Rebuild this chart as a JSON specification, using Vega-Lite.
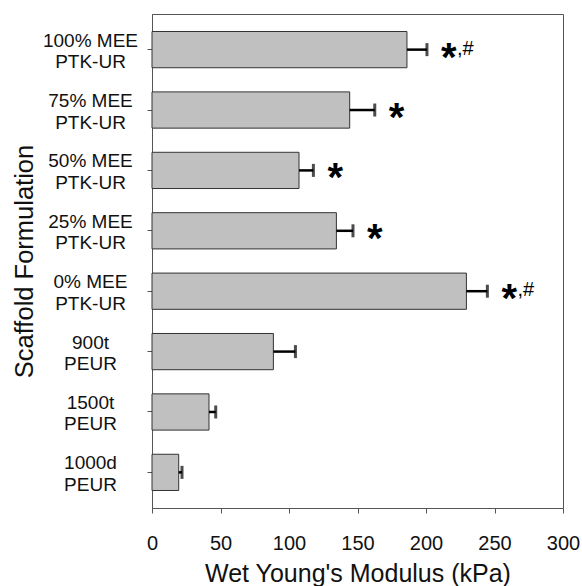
{
  "$schema": "https://vega.github.io/schema/vega-lite/v6.json",
  "autosize": "none",
  "padding": {"left": 152, "top": 14, "right": 19, "bottom": 78},
  "width": 411,
  "height": 494,
  "background": "white",
  "config": {
    "font": "Liberation Sans",
    "view": {"stroke": "#555", "strokeWidth": 1}
  },
  "data": {
    "values": [
      {"f": "100% MEE|PTK-UR", "v": 186.1, "hi": 200.7, "sig": "*", "hash": ",#"},
      {"f": "75% MEE|PTK-UR", "v": 144.3, "hi": 162.6, "sig": "*", "hash": ""},
      {"f": "50% MEE|PTK-UR", "v": 107.3, "hi": 117.8, "sig": "*", "hash": ""},
      {"f": "25% MEE|PTK-UR", "v": 134.6, "hi": 146.7, "sig": "*", "hash": ""},
      {"f": "0% MEE|PTK-UR", "v": 229.5, "hi": 244.8, "sig": "*", "hash": ",#"},
      {"f": "900t|PEUR", "v": 88.6, "hi": 104.7, "sig": "", "hash": ""},
      {"f": "1500t|PEUR", "v": 41.6, "hi": 46.5, "sig": "", "hash": ""},
      {"f": "1000d|PEUR", "v": 19.5, "hi": 21.9, "sig": "", "hash": ""}
    ]
  },
  "encoding": {
    "y": {
      "field": "f",
      "type": "nominal",
      "sort": null,
      "scale": {"paddingInner": 0.4, "paddingOuter": 0.29},
      "axis": {
        "domainColor": "#555",
        "tickColor": "#555",
        "tickSize": 5,
        "labelAlign": "center",
        "labelBaseline": "middle",
        "labelOffset": -9,
        "labelPadding": 57,
        "labelFontSize": 19,
        "labelColor": "#111",
        "labelLimit": 0,
        "labelExpr": "split(datum.label, '|')",
        "labelLineHeight": 21.5,
        "title": "Scaffold Formulation",
        "titleFontSize": 25.5,
        "titleFontWeight": "normal",
        "titleColor": "#111",
        "titleAngle": -90,
        "titleX": -120,
        "titleY": 247,
        "titleAlign": "center",
        "titleBaseline": "alphabetic"
      }
    }
  },
  "layer": [
    {
      "mark": {"type": "bar", "fill": "#c0c0c0", "stroke": "#333", "strokeWidth": 1},
      "encoding": {
        "x": {
          "field": "v",
          "type": "quantitative",
          "scale": {"domain": [0, 300], "nice": false},
          "axis": {
            "values": [0, 50, 100, 150, 200, 250, 300],
            "grid": false,
            "domainColor": "#555",
            "tickColor": "#555",
            "tickSize": 5,
            "labelFontSize": 20,
            "labelPadding": 20,
            "labelColor": "#111",
            "labelFlush": false,
            "title": "Wet Young's Modulus (kPa)",
            "titleFontSize": 25,
            "titleFontWeight": "normal",
            "titleColor": "#111",
            "titleX": 205.5,
            "titleY": 73.5,
            "titleAlign": "center",
            "titleBaseline": "alphabetic"
          }
        }
      }
    },
    {
      "mark": {"type": "rule", "color": "#000", "strokeWidth": 2.5},
      "encoding": {
        "x": {"field": "v", "type": "quantitative"},
        "x2": {"field": "hi"}
      }
    },
    {
      "mark": {"type": "tick", "color": "#000", "thickness": 3, "size": 13, "orient": "vertical"},
      "encoding": {
        "x": {"field": "hi", "type": "quantitative"}
      }
    },
    {
      "mark": {"type": "text", "align": "left", "baseline": "alphabetic", "dx": 14, "dy": 21, "fontSize": 40, "fontWeight": "bold", "color": "#000"},
      "encoding": {
        "x": {"field": "hi", "type": "quantitative"},
        "text": {"field": "sig"}
      }
    },
    {
      "mark": {"type": "text", "align": "left", "baseline": "alphabetic", "dx": 30, "dy": 5, "fontSize": 20, "color": "#000"},
      "encoding": {
        "x": {"field": "hi", "type": "quantitative"},
        "text": {"field": "hash"}
      }
    }
  ]
}
